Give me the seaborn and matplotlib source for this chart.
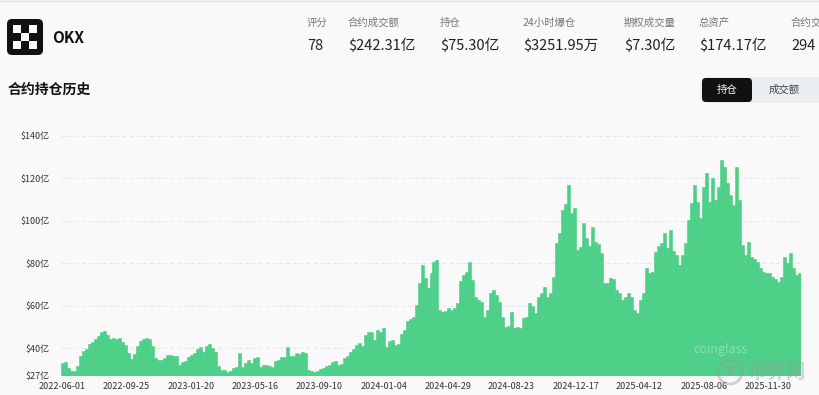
import pandas as pd
import numpy as np
import seaborn as sns
import matplotlib.pyplot as plt
import matplotlib.dates as mdates
from matplotlib.patches import FancyBboxPatch, Rectangle, Circle
from matplotlib.transforms import IdentityTransform

# Open interest history (亿 USD), evenly spaced 2022-06-01 .. 2026-01-27
oi_values = [
    33.3, 33.8, 31.0, 29.5, 29.3, 31.5, 36.5, 39.0, 39.5, 42.0,
    43.0, 44.5, 45.8, 47.5, 48.3, 46.5, 44.3, 44.8, 44.5, 45.0,
    43.0, 41.6, 38.0, 35.0, 37.5, 41.0, 43.5, 44.2, 45.0, 44.5,
    41.0, 35.3, 34.5, 34.3, 35.5, 37.0, 36.8, 36.5, 36.3, 32.2,
    33.5, 34.0, 36.0, 36.8, 38.0, 39.5, 40.8, 38.5, 41.0, 42.0,
    40.0, 38.5, 31.5, 29.8, 30.0, 29.0, 29.3, 31.0, 31.4, 37.7,
    31.4, 33.0, 34.5, 33.0, 35.5, 36.0, 31.4, 32.0, 32.2, 31.5,
    31.4, 34.0, 34.5, 36.0, 36.1, 40.8, 36.4, 36.6, 38.0, 37.5,
    38.5, 38.0, 29.8, 29.2, 29.0, 29.5, 30.2, 31.0, 31.7, 32.0,
    33.8, 34.0, 32.2, 32.5, 35.5, 36.5, 38.5, 39.5, 41.6, 42.4,
    41.0, 46.3, 47.5, 47.9, 44.0, 48.7, 47.5, 49.5, 40.8, 43.5,
    44.0, 41.6, 42.0, 47.0, 48.7, 53.0, 54.0, 55.0, 60.5, 70.7,
    79.3, 73.0, 68.3, 75.4, 80.9, 81.7, 58.1, 57.3, 57.5, 58.9,
    58.0, 59.0, 61.2, 71.5, 74.6, 76.0, 80.9, 72.2, 64.4, 63.0,
    62.0, 55.0, 58.1, 66.0, 67.5, 65.2, 62.0, 55.0, 50.3, 50.5,
    57.3, 49.5, 50.0, 49.5, 54.2, 55.0, 61.2, 60.0, 56.5, 64.0,
    66.0, 69.1, 64.4, 66.0, 73.8, 89.5, 94.2, 105.2, 108.0, 116.9,
    103.6, 106.0, 86.3, 87.9, 98.9, 92.0, 88.0, 97.3, 90.3, 89.0,
    84.8, 70.7, 71.0, 73.0, 72.5, 67.5, 66.0, 62.8, 64.0, 66.0,
    64.4, 58.0, 56.5, 62.8, 66.0, 77.7, 75.4, 76.0, 85.6, 88.0,
    89.5, 94.2, 87.1, 95.8, 86.0, 84.0,
    79.3, 84.0, 89.5, 100.5, 108.3, 117.0, 109.1, 101.2, 116.1, 122.4,
    109.1, 120.1, 109.9, 116.1, 128.7, 125.5, 118.0, 112.2, 107.5, 125.5,
    109.9, 88.7, 84.0, 90.3, 83.2, 82.0, 80.8, 78.0, 76.1, 75.5,
    75.3, 73.8, 72.5, 71.4, 73.8, 83.2, 80.0, 84.8, 77.7, 74.5, 75.3,
]
start_date = "2022-06-01"
end_date = "2026-01-27"

x_tick_labels = ["2022-06-01", "2022-09-25", "2023-01-20", "2023-05-16",
                 "2023-09-10", "2024-01-04", "2024-04-29", "2024-08-23",
                 "2024-12-17", "2025-04-12", "2025-08-06", "2025-11-30"]
y_ticks = [27, 40, 60, 80, 100, 120, 140]

# Header stats
stat_labels = ["评分", "合约成交额", "持仓", "24小时爆仓", "期权成交量", "总资产", "合约交"]
stat_values = ["78", "$242.31亿", "$75.30亿", "$3251.95万", "$7.30亿", "$174.17亿", "294"]
stat_x = [307, 348, 440, 523, 624, 699, 791]

BG = "#f9f9f9"
GREEN = "#4ccf86"
W, H = 820, 395

sns.set_theme(style="white")
plt.rcParams["font.family"] = ["Noto Sans CJK SC", "DejaVu Sans"]

fig = plt.figure(figsize=(W / 100, H / 100), dpi=100, facecolor=BG)


def fx(x):
    return x / W


def fy(y):
    return 1 - y / H


# top border line
fig.add_artist(plt.Line2D([0, 1], [fy(1), fy(1)], color="#e4e4e4", lw=1))

# logo
fig.add_artist(FancyBboxPatch((7, H - 55), 36, 36, boxstyle="round,pad=0,rounding_size=5",
                              transform=IdentityTransform(), fc="#111111", ec="none"))
for cx, cy in [(14, 26), (30, 26), (22, 34), (14, 42), (30, 42)]:
    fig.add_artist(Rectangle((cx - 1, H - cy - 7), 8, 8, transform=IdentityTransform(),
                             fc="white", ec="none"))
fig.text(fx(52), fy(38), "OKX", fontsize=11, fontweight="bold", color="#111111", va="center")

for lab, val, x in zip(stat_labels, stat_values, stat_x):
    fig.text(fx(x), fy(23), lab, fontsize=7.5, color="#777777", va="center")
    fig.text(fx(x), fy(46), val, fontsize=10.5, color="#222222", va="center")

fig.text(fx(8), fy(90), "合约持仓历史", fontsize=10, fontweight="bold", color="#111111", va="center")

# toggle buttons
fig.add_artist(FancyBboxPatch((700, H - 103), 130, 26, boxstyle="round,pad=0,rounding_size=5",
                              transform=IdentityTransform(), fc="#eceff2", ec="none"))
fig.add_artist(FancyBboxPatch((702, H - 102), 50, 24, boxstyle="round,pad=0,rounding_size=4",
                              transform=IdentityTransform(), fc="#111111", ec="none"))
fig.text(fx(727), fy(90), "持仓", fontsize=7.5, color="white", ha="center", va="center")
fig.text(fx(784), fy(90), "成交额", fontsize=7.5, color="#444444", ha="center", va="center")

# chart
ax = fig.add_axes([fx(61), fy(376), fx(740), 240 / H])
ax.set_facecolor(BG)

dates = pd.date_range(start_date, end_date, periods=len(oi_values))
df = pd.DataFrame({"date": mdates.date2num(dates), "oi": oi_values})
sns.barplot(data=df, x="date", y="oi", native_scale=True, color=GREEN, width=1.0,
            errorbar=None, edgecolor=GREEN, linewidth=0.4, saturation=1, ax=ax)

for yv in y_ticks[1:]:
    ax.axhline(yv, color="#e6e6e6", lw=0.7, ls=(0, (4, 3)), zorder=0)

ax.set_ylim(27, 140)
ax.set_xlim(df["date"].iloc[0] - 2.5, df["date"].iloc[-1] + 2.5)
ax.set_yticks(y_ticks)
ax.set_yticklabels([f"${v}亿" for v in y_ticks], fontsize=6.5, color="#333333")
tick_pos = mdates.date2num(pd.to_datetime(x_tick_labels))
ax.set_xticks(tick_pos)
ax.set_xticklabels(x_tick_labels, fontsize=6.5, color="#333333")
ax.tick_params(axis="both", length=0, pad=3)
ax.tick_params(axis="x", pad=4)
ax.tick_params(axis="y", pad=8)
ax.set_xlabel("")
ax.set_ylabel("")
for s in ax.spines.values():
    s.set_visible(False)
ax.grid(False)

# watermarks
fig.text(fx(693), fy(350), "coinglass", fontsize=9, color="white", alpha=0.35, va="center")
fig.add_artist(Circle((730, H - 372), 12, transform=IdentityTransform(), fc="none",
                      ec="#9a9a9a", lw=2, alpha=0.45))
fig.text(fx(730), fy(372), "B", fontsize=10, fontweight="bold", color="#9a9a9a", alpha=0.45,
         ha="center", va="center")
fig.text(fx(748), fy(372), "币界网", fontsize=14, fontweight="bold", color="#9a9a9a", alpha=0.4,
         va="center")

fig.savefig("out.png", dpi=100, facecolor=BG)
